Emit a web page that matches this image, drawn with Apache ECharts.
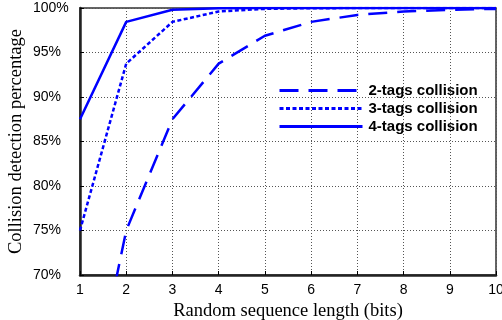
<!DOCTYPE html>
<html>
<head>
<meta charset="utf-8">
<script src="https://cdn.jsdelivr.net/npm/echarts@6/dist/echarts.min.js"></script>
<style>html,body{margin:0;padding:0;background:#fff}#c{width:502px;height:320px}</style>
</head>
<body>
<div id="c"></div>
<script>
var bits = [1, 2, 3, 4, 5, 6, 7, 8, 9, 10];
var twoTags = [50, 75, 87.5, 93.75, 96.88, 98.44, 99.22, 99.61, 99.8, 99.9];
var threeTags = [75, 93.75, 98.44, 99.61, 99.9, 99.98, 99.99, 100, 100, 100];
var fourTags = [87.5, 98.44, 99.8, 99.98, 100, 100, 100, 100, 100, 100];
var seriesNames = ['2-tags collision', '3-tags collision', '4-tags collision'];
var yTicks = [70, 75, 80, 85, 90, 95, 100];

function pairs(v) { return bits.map(function (b, i) { return [b, v[i]]; }); }

var chart = echarts.init(document.getElementById('c'));
var blue = '#0000ff';
chart.setOption({
  backgroundColor: '#fff',
  animation: false,
  grid: { left: 80, right: 6, top: 8, bottom: 45, containLabel: false, outerBoundsMode: 'none',
    show: true, borderColor: '#333', borderWidth: 1.5, backgroundColor: 'transparent' },
  legend: {
    orient: 'vertical', left: 273, top: 78, itemWidth: 83, itemHeight: 14, itemGap: 3,
    data: seriesNames,
    itemStyle: { color: 'transparent', borderColor: 'transparent', borderWidth: 0 },
    lineStyle: { width: 3 },
    textStyle: { fontFamily: 'Liberation Sans, Arial', fontWeight: 'bold', fontSize: 15, color: '#000', padding: [0, 0, 0, 1] }
  },
  xAxis: {
    type: 'value', min: 1, max: 10, interval: 1,
    name: 'Random sequence length (bits)', nameLocation: 'middle', nameGap: 27, nameMoveOverlap: false,
    nameTextStyle: { fontFamily: 'Liberation Serif, Times New Roman', fontSize: 18.5, color: '#000' },
    axisLine: { show: true, lineStyle: { color: '#222', width: 2.5 } },
    axisTick: { show: true, inside: true, length: 4, lineStyle: { color: '#000' } },
    axisLabel: { fontFamily: 'Liberation Sans, Arial', fontSize: 14, color: '#000', margin: 8 },
    splitLine: { show: true, lineStyle: { type: [1, 2], color: '#555', width: 1 } }
  },
  yAxis: {
    type: 'value', min: yTicks[0], max: yTicks[yTicks.length - 1], interval: 5,
    name: 'Collision detection percentage', nameLocation: 'middle', nameGap: 54, nameMoveOverlap: false,
    nameTextStyle: { fontFamily: 'Liberation Serif, Times New Roman', fontSize: 18.5, color: '#000' },
    axisLine: { show: true, lineStyle: { color: '#222', width: 2.5 } },
    axisTick: { show: true, inside: true, length: 4, lineStyle: { color: '#000' } },
    axisLabel: { formatter: '{value}%', align: 'left', fontFamily: 'Liberation Sans, Arial', fontSize: 14, color: '#000', margin: 47 },
    splitLine: { show: true, lineStyle: { type: [1, 2], color: '#555', width: 1 } }
  },
  series: [
    { name: seriesNames[0], type: 'line', data: pairs(twoTags), symbol: 'none', clip: true, color: blue,
      lineStyle: { color: blue, width: 2.5, type: [19, 10] } },
    { name: seriesNames[1], type: 'line', data: pairs(threeTags), symbol: 'none', clip: true, color: blue,
      lineStyle: { color: blue, width: 2.5, type: [4, 2.5] } },
    { name: seriesNames[2], type: 'line', data: pairs(fourTags), symbol: 'none', clip: true, color: blue,
      lineStyle: { color: blue, width: 2.5, type: 'solid' } }
  ]
});
</script>
</body>
</html>
